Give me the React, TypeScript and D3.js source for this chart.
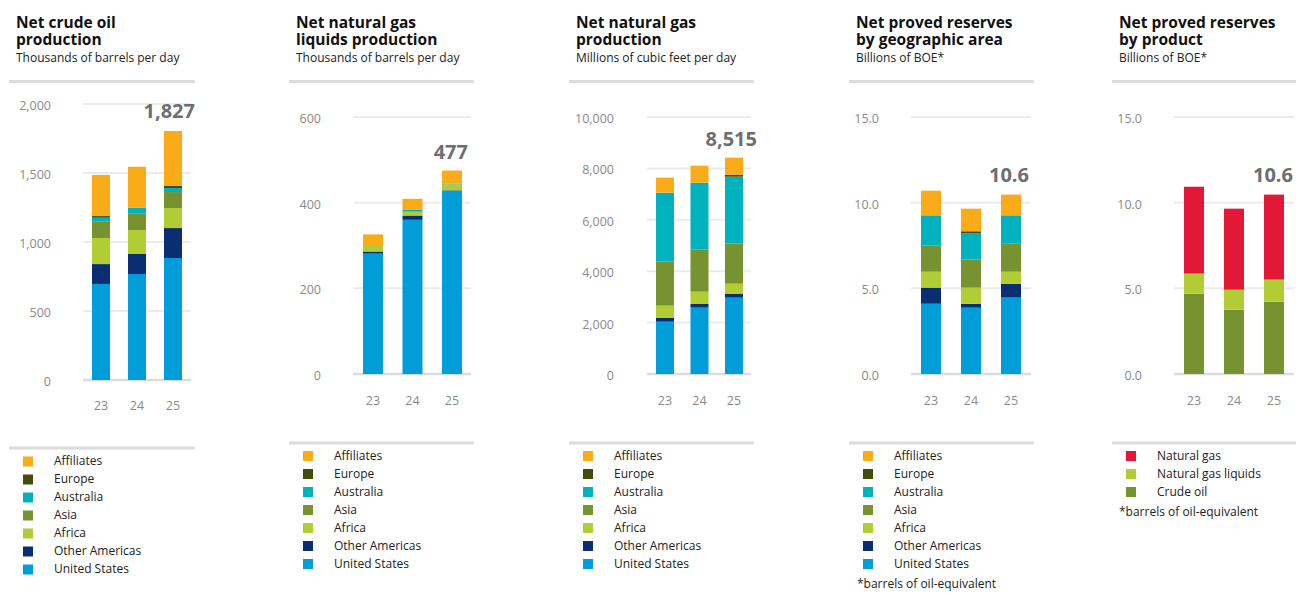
import React from "react";
import * as d3 from "d3";

// ---------- DATA ----------
const years = ["23", "24", "25"];

const regionSeries = ["United States", "Other Americas", "Africa", "Asia", "Australia", "Europe", "Affiliates"];
const productSeries = ["Crude oil", "Natural gas liquids", "Natural gas"];

// per year: US, Other Americas, Africa, Asia, Australia, Europe, Affiliates
const crudeOilValues = [
  [696, 144, 189, 118, 29, 12, 298],
  [768, 145, 174, 118, 41, 2, 297],
  [884, 217, 145, 116, 29, 15, 398],
];
const nglValues = [
  [281, 5, 14, 1, 0, 0, 25],
  [360, 10, 9, 0, 5, 0, 25],
  [428, 1, 14, 0, 1, 0, 31],
];
const gasValues = [
  [2036, 156, 467, 1725, 2672, 0, 583],
  [2581, 156, 467, 1647, 2594, 0, 661],
  [2970, 156, 389, 1569, 2594, 78, 662],
];
const reservesGeoValues = [
  [4.1, 0.94, 0.93, 1.54, 1.75, 0, 1.44],
  [3.87, 0.23, 0.94, 1.65, 1.52, 0.12, 1.32],
  [4.46, 0.81, 0.7, 1.66, 1.63, 0, 1.21],
];
// per year: Crude oil, NGL, Natural gas
const reservesProductValues = [
  [4.69, 1.17, 5.07],
  [3.75, 1.17, 4.73],
  [4.22, 1.29, 4.96],
];

const totalLabels = ["1,827", "477", "8,515", "10.6", "10.6"];
const crudeTicks = [0, 500, 1000, 1500, 2000];
const nglTicks = [0, 200, 400, 600];
const gasTicks = [0, 2000, 4000, 6000, 8000, 10000];
const reservesTicks = [0, 5, 10, 15];

// ---------- STYLE ----------
const regionColors: Record<string, string> = {
  "United States": "#009dd9",
  "Other Americas": "#0b2d71",
  Africa: "#b2cc34",
  Asia: "#769231",
  Australia: "#00b2bd",
  Europe: "#444b0d",
  Affiliates: "#faab18",
};
const productColors: Record<string, string> = {
  "Crude oil": "#769231",
  "Natural gas liquids": "#b2cc34",
  "Natural gas": "#e21836",
};

const FONT = "'Open Sans', 'DejaVu Sans', sans-serif";

type Panel = {
  title: [string, string];
  subtitle: string;
  tx: number;
  ruleX: [number, number];
  yRange: [number, number];
  max: number;
  ticks: number[];
  fmt: (v: number) => string;
  yLabelX: number;
  gridX: [number, number];
  barRange: [number, number];
  barW: number;
  xLabelY: number;
  totalX: number;
  totalY: number;
  legendRuleY: number;
  legendY0: number;
  legendSqX: number;
  legendTxtX: number;
  series: string[];
  colors: Record<string, string>;
  values: number[][];
  total: string;
  footnote?: [number, number];
};

const fmtComma = d3.format(",");
const fmt1 = d3.format(".1f");

const panels: Panel[] = [
  {
    title: ["Net crude oil", "production"], subtitle: "Thousands of barrels per day", tx: 16,
    ruleX: [9, 195], yRange: [380, 104], max: 2000, ticks: crudeTicks, fmt: fmtComma,
    yLabelX: 51, gridX: [83, 191], barRange: [101, 173], barW: 18, xLabelY: 405,
    totalX: 195, totalY: 118, legendRuleY: 448, legendY0: 460.5, legendSqX: 23, legendTxtX: 54,
    series: regionSeries, colors: regionColors, values: crudeOilValues, total: totalLabels[0],
  },
  {
    title: ["Net natural gas", "liquids production"], subtitle: "Thousands of barrels per day", tx: 296,
    ruleX: [289, 474], yRange: [374, 117], max: 600, ticks: nglTicks, fmt: fmtComma,
    yLabelX: 321, gridX: [353, 471], barRange: [373, 452], barW: 20, xLabelY: 400,
    totalX: 468, totalY: 159, legendRuleY: 443, legendY0: 455, legendSqX: 303, legendTxtX: 334,
    series: regionSeries, colors: regionColors, values: nglValues, total: totalLabels[1],
  },
  {
    title: ["Net natural gas", "production"], subtitle: "Millions of cubic feet per day", tx: 576,
    ruleX: [569, 754], yRange: [374, 117], max: 10000, ticks: gasTicks, fmt: fmtComma,
    yLabelX: 614, gridX: [647, 751], barRange: [665, 734], barW: 18, xLabelY: 400,
    totalX: 757, totalY: 146, legendRuleY: 443, legendY0: 455, legendSqX: 583, legendTxtX: 614,
    series: regionSeries, colors: regionColors, values: gasValues, total: totalLabels[2],
  },
  {
    title: ["Net proved reserves", "by geographic area"], subtitle: "Billions of BOE*", tx: 856,
    ruleX: [849, 1034], yRange: [374, 117], max: 15, ticks: reservesTicks, fmt: fmt1,
    yLabelX: 879, gridX: [911, 1031], barRange: [931, 1011], barW: 20, xLabelY: 400,
    totalX: 1029, totalY: 182, legendRuleY: 443, legendY0: 455, legendSqX: 863, legendTxtX: 894,
    series: regionSeries, colors: regionColors, values: reservesGeoValues, total: totalLabels[3],
    footnote: [857, 588],
  },
  {
    title: ["Net proved reserves", "by product"], subtitle: "Billions of BOE*", tx: 1119,
    ruleX: [1112, 1296], yRange: [374, 117], max: 15, ticks: reservesTicks, fmt: fmt1,
    yLabelX: 1142, gridX: [1174, 1294], barRange: [1194, 1274], barW: 20, xLabelY: 400,
    totalX: 1293, totalY: 182, legendRuleY: 443, legendY0: 455, legendSqX: 1126, legendTxtX: 1157,
    series: productSeries, colors: productColors, values: reservesProductValues, total: totalLabels[4],
    footnote: [1119, 516],
  },
];

function PanelView({ p }: { p: Panel }) {
  const y = d3.scaleLinear().domain([0, p.max]).range(p.yRange);
  const x = d3.scalePoint<string>().domain(years).range(p.barRange);
  const rows = years.map((yr, i) => {
    const o: Record<string, any> = { year: yr };
    p.series.forEach((s, j) => (o[s] = p.values[i][j]));
    return o;
  });
  const stacked = d3.stack<any>().keys(p.series)(rows);
  const legendItems = [...p.series].reverse();
  return (
    <g>
      <text x={p.tx} y={28} fontFamily={FONT} fontWeight={700} fontSize={15.5} fill="#111">
        <tspan x={p.tx} y={28}>{p.title[0]}</tspan>
        <tspan x={p.tx} y={44.5}>{p.title[1]}</tspan>
      </text>
      <text x={p.tx} y={62} fontFamily={FONT} fontSize={12} fill="#222">{p.subtitle}</text>
      <line x1={p.ruleX[0]} x2={p.ruleX[1]} y1={81.5} y2={81.5} stroke="#dcdcdc" strokeWidth={3} />
      {p.ticks.map((t) => (
        <g key={t}>
          <line x1={p.gridX[0]} x2={p.gridX[1]} y1={y(t)} y2={y(t)} stroke={t === 0 ? "#dcdcdc" : "#ebebeb"} strokeWidth={t === 0 ? 2.5 : 2} />
          <text x={p.yLabelX} y={y(t) + 1.5} textAnchor="end" dominantBaseline="central" fontFamily={FONT} fontSize={12.5} fill="#8a8a8a">{p.fmt(t)}</text>
        </g>
      ))}
      {stacked.map((layer) => (
        <g key={layer.key} fill={p.colors[layer.key]}>
          {layer.map((d: any, i: number) => (
            d[1] - d[0] > 0 ? (
              <rect key={i} x={(x(years[i]) as number) - p.barW / 2} width={p.barW} y={y(d[1])} height={y(d[0]) - y(d[1])} />
            ) : null
          ))}
        </g>
      ))}
      {years.map((yr) => (
        <text key={yr} x={x(yr)} y={p.xLabelY} textAnchor="middle" dominantBaseline="central" fontFamily={FONT} fontSize={12.5} fill="#8a8a8a">{yr}</text>
      ))}
      <text x={p.totalX} y={p.totalY} textAnchor="end" fontFamily={FONT} fontWeight={700} fontSize={20} fill="#6d6e71">{p.total}</text>
      <line x1={p.ruleX[0]} x2={p.ruleX[1]} y1={p.legendRuleY} y2={p.legendRuleY} stroke="#dcdcdc" strokeWidth={3} />
      {legendItems.map((s, i) => (
        <g key={s}>
          <rect x={p.legendSqX} y={p.legendY0 + i * 18 - 4} width={10} height={10} fill={p.colors[s]} />
          <text x={p.legendTxtX} y={p.legendY0 + i * 18} dominantBaseline="central" fontFamily={FONT} fontSize={12} fill="#222">{s}</text>
        </g>
      ))}
      {p.footnote ? (
        <text x={p.footnote[0]} y={p.footnote[1]} fontFamily={FONT} fontSize={12} fill="#222">*barrels of oil-equivalent</text>
      ) : null}
    </g>
  );
}

export default function App() {
  return (
    <svg width={1296} height={593} style={{ position: "absolute", left: 0, top: 0, background: "#fff" }}>
      {panels.map((p, i) => (
        <PanelView key={i} p={p} />
      ))}
    </svg>
  );
}
